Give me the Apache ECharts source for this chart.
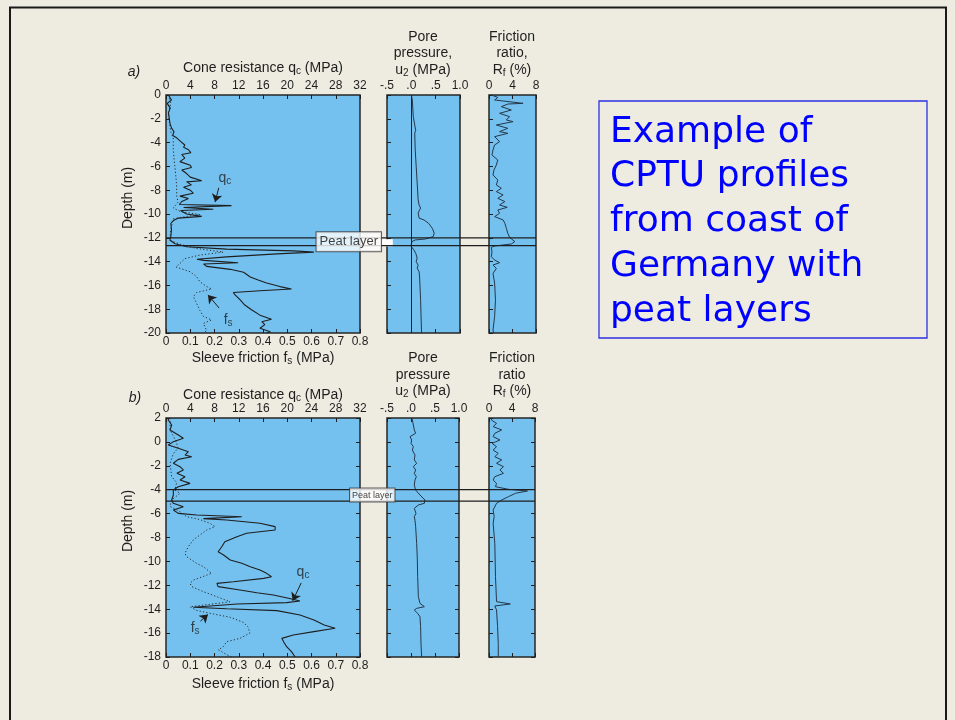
<!DOCTYPE html>
<html><head><meta charset="utf-8">
<script src="https://cdn.jsdelivr.net/npm/echarts@6/dist/echarts.min.js"></script>
<style>html,body{margin:0;padding:0;background:#EEECE1;}#c{width:955px;height:720px;}</style>
</head><body><div id="c"></div>
<script>
// ---------- DATA (value, depth) ----------
const qcA = [[0.4,0],[0.4,-0.14],[0.9,-0.42],[0.2,-0.7],[0.7,-1.1],[0.4,-1.5],[0.55,-2.0],[0.66,-2.4],[0.94,-2.8],[1.32,-3.1],[1.1,-3.4],[1.76,-3.6],[2.4,-3.9],[3.1,-4.2],[2.9,-4.4],[3.7,-4.6],[4.1,-4.85],[2.6,-5.0],[3.1,-5.3],[2.3,-5.6],[4.0,-5.9],[4.2,-6.1],[2.6,-6.3],[3.4,-6.6],[4.0,-6.9],[5.9,-7.2],[3.4,-7.3],[4.2,-7.55],[2.9,-7.75],[4.0,-8.0],[4.5,-8.25],[2.3,-8.5],[3.7,-8.7],[2.6,-8.95],[2.2,-9.2],[10.8,-9.3],[2.9,-9.45],[7.8,-9.6],[2.4,-9.7],[3.4,-10.0],[5.9,-10.2],[2.0,-10.35],[1.2,-10.55],[0.8,-10.8],[0.9,-11.3],[0.8,-11.9],[0.66,-12.2],[1.5,-12.5],[3.4,-12.75],[10.0,-12.95],[21.0,-13.1],[24.4,-13.2],[18.3,-13.35],[10.0,-13.6],[5.1,-13.8],[6.2,-13.9],[11.9,-14.1],[6.2,-14.2],[6.7,-14.4],[10.6,-14.65],[12.8,-14.9],[13.9,-15.3],[15.2,-15.55],[16.6,-15.8],[18.8,-16.1],[20.7,-16.3],[15.5,-16.45],[11.1,-16.6],[11.4,-16.8],[12.2,-17.2],[13.0,-17.65],[14.1,-18.05],[15.5,-18.5],[17.4,-18.85],[15.8,-19.05],[16.3,-19.3],[15.5,-19.6],[17.2,-19.9],[16.6,-20]];
const fsA = [[0.01,0],[0.01,-0.14],[0.02,-0.7],[0.01,-1.5],[0.015,-2.4],[0.02,-3.1],[0.03,-3.6],[0.03,-4.6],[0.033,-5.3],[0.037,-6.1],[0.041,-6.9],[0.044,-7.7],[0.044,-8.5],[0.05,-9.0],[0.03,-9.5],[0.06,-9.8],[0.14,-10.05],[0.1,-10.15],[0.03,-10.4],[0.02,-11.3],[0.015,-12.2],[0.06,-12.55],[0.126,-12.9],[0.236,-13.2],[0.14,-13.45],[0.078,-13.75],[0.058,-14.15],[0.041,-14.45],[0.099,-14.85],[0.126,-15.25],[0.14,-15.7],[0.168,-16.1],[0.188,-16.3],[0.126,-16.6],[0.113,-16.95],[0.126,-17.5],[0.14,-18.1],[0.154,-18.6],[0.188,-18.9],[0.154,-19.2],[0.168,-19.8],[0.154,-20]];
const uA = [[0.0,0],[0.02,-0.4],[0.04,-1.8],[0.09,-3.0],[0.11,-3.1],[0.07,-3.2],[0.08,-4.6],[0.10,-6.0],[0.12,-7.4],[0.14,-8.8],[0.16,-9.25],[0.19,-9.5],[0.14,-9.9],[0.16,-10.35],[0.26,-10.5],[0.36,-10.8],[0.43,-11.2],[0.47,-11.6],[0.45,-11.9],[0.29,-12.1],[0.08,-12.18],[0.02,-12.3],[0.0,-12.5],[0.0,-12.75],[0.05,-13.0],[0.09,-13.3],[0.12,-13.7],[0.1,-14.0],[0.14,-14.3],[0.12,-14.55],[0.16,-14.85],[0.17,-15.3],[0.19,-17.2],[0.21,-20]];
const rfA = [[0.4,0],[1.5,-0.2],[0.96,-0.42],[5.8,-0.7],[3.2,-0.76],[2.1,-0.98],[3.8,-1.26],[1.8,-1.54],[3.5,-1.82],[2.95,-2.1],[4.1,-2.24],[1.25,-2.52],[3.2,-2.8],[1.8,-3.08],[3.2,-3.22],[0.96,-3.5],[1.8,-3.92],[0.96,-4.2],[0.68,-4.62],[0.5,-5.04],[1.5,-5.46],[1.25,-5.88],[0.85,-6.3],[0.68,-6.72],[1.5,-7.14],[1.25,-7.56],[2.1,-7.84],[1.25,-8.12],[2.4,-8.4],[1.5,-8.68],[2.7,-8.96],[1.8,-9.24],[3.1,-9.44],[1.5,-9.66],[1.8,-9.94],[0.96,-10.22],[2.4,-10.5],[2.7,-10.78],[2.95,-11.2],[3.2,-11.62],[3.5,-11.96],[4.4,-12.32],[3.8,-12.52],[0.96,-12.69],[0.4,-12.8],[0.5,-13.17],[0.4,-13.59],[0.96,-13.87],[1.8,-14.09],[0.68,-14.29],[1.25,-14.57],[0.68,-15.0],[0.96,-15.8],[1.1,-17.2],[0.96,-18.6],[0.68,-19.75],[0.8,-20]];

const qcB = [[0.4,2],[0.38,1.83],[0.94,1.41],[0.66,1.0],[2.03,0.58],[2.86,0.3],[1.21,0.02],[0.38,-0.26],[2.03,-0.54],[3.69,-0.82],[3.14,-1.1],[4.24,-1.24],[2.03,-1.46],[1.21,-1.79],[2.31,-2.07],[2.86,-2.35],[1.8,-2.63],[3.14,-2.91],[2.31,-3.19],[3.96,-3.47],[2.03,-3.75],[1.21,-4.03],[1.21,-4.44],[0.94,-4.86],[1.21,-5.14],[2.86,-5.42],[1.21,-5.7],[2.03,-5.98],[5.06,-6.12],[12.5,-6.26],[6.16,-6.42],[10.0,-6.54],[15.5,-6.81],[18.0,-7.09],[18.0,-7.37],[13.3,-7.65],[11.7,-7.93],[9.7,-8.35],[9.2,-8.77],[8.6,-9.19],[9.5,-9.46],[10.6,-9.88],[12.5,-10.16],[13.9,-10.44],[15.5,-10.72],[16.6,-11.0],[17.4,-11.28],[16.1,-11.42],[11.1,-11.7],[8.4,-11.84],[8.6,-12.11],[12.2,-12.39],[15.0,-12.62],[17.7,-12.81],[20.2,-13.09],[22.1,-13.31],[19.9,-13.45],[11.7,-13.56],[7.3,-13.73],[4.5,-13.84],[10.0,-13.96],[18.3,-14.12],[22.1,-14.49],[24.4,-14.9],[26.1,-15.32],[27.9,-15.6],[24.4,-15.88],[21.0,-16.16],[19.1,-16.44],[19.4,-16.72],[19.9,-17.14],[20.7,-17.55],[21.3,-18.0]];
const fsB = [[0.017,2],[0.017,1.6],[0.017,1.0],[0.04,0.1],[0.05,-0.5],[0.03,-1.0],[0.017,-1.8],[0.023,-2.9],[0.044,-3.4],[0.037,-4.03],[0.058,-4.3],[0.023,-4.86],[0.017,-5.4],[0.058,-5.84],[0.085,-6.26],[0.14,-6.5],[0.181,-6.81],[0.202,-7.09],[0.168,-7.37],[0.14,-7.79],[0.113,-8.2],[0.092,-8.77],[0.078,-9.33],[0.085,-9.6],[0.126,-10.16],[0.154,-10.44],[0.188,-11.0],[0.113,-11.56],[0.099,-11.84],[0.106,-12.11],[0.154,-12.53],[0.209,-12.95],[0.264,-13.38],[0.099,-13.8],[0.126,-14.1],[0.195,-14.4],[0.264,-14.67],[0.319,-15.1],[0.339,-15.5],[0.346,-16.0],[0.305,-16.44],[0.25,-16.72],[0.236,-17.14],[0.216,-17.4],[0.25,-17.8],[0.271,-18]];
const uB = [[0.02,2],[0.028,1.83],[0.049,1.41],[0.069,1.0],[0.097,0.72],[-0.02,0.44],[0.014,0.16],[0.0,-0.12],[0.049,-0.4],[0.028,-0.68],[0.083,-1.1],[0.069,-1.51],[0.118,-1.79],[0.049,-2.07],[0.097,-2.35],[0.069,-2.63],[0.111,-2.91],[0.083,-3.19],[0.069,-3.61],[0.097,-4.03],[0.187,-4.44],[0.29,-4.86],[0.278,-5.14],[0.153,-5.28],[0.069,-5.56],[0.104,-5.98],[0.069,-6.26],[0.083,-6.54],[0.097,-7.09],[0.118,-8.49],[0.132,-9.88],[0.139,-11.28],[0.153,-12.95],[0.187,-13.51],[0.278,-13.79],[0.118,-13.93],[0.069,-14.07],[0.139,-14.35],[0.187,-14.63],[0.2,-15.46],[0.208,-16.86],[0.222,-18]];
const rfB = [[0.4,2],[0.42,1.83],[1.31,1.55],[0.72,1.28],[2.21,1.0],[1.01,0.72],[0.72,0.44],[1.91,0.16],[0.54,-0.12],[1.31,-0.4],[0.72,-0.68],[1.61,-0.96],[1.01,-1.24],[2.21,-1.51],[1.31,-1.79],[2.51,-2.07],[1.91,-2.35],[2.51,-2.63],[1.01,-2.91],[0.72,-3.19],[1.31,-3.47],[1.13,-3.75],[3.4,-3.97],[6.69,-4.11],[4.6,-4.3],[3.4,-4.58],[2.21,-4.86],[1.31,-5.14],[1.01,-5.28],[0.72,-5.7],[0.9,-6.26],[0.72,-6.81],[1.01,-8.49],[1.13,-11.28],[1.31,-13.37],[3.7,-13.56],[1.01,-13.73],[1.31,-14.07],[1.49,-15.46],[1.61,-16.86],[1.61,-18]];

const peatA = [-12.0, -12.65];   // peat layer boundaries, profile a
const peatB = [-4.0, -4.95];     // peat layer boundaries, profile b
const uTickLabels = ['-.5', '.0', '.5', '1.0'];
const depthRangeA = [-20, 0];
const depthRangeB = [-18, 2];

// ---------- STYLE ----------
const FONT = "'Liberation Sans', Arial, sans-serif";
const INK = '#1e1e1e';
const CURVE2 = '#25384a';
const PLOT_BG = '#74C1F0';

const gridsDef = [
  {left:166, top:95, width:194, height:238},
  {left:387, top:95, width:73, height:238},
  {left:489, top:95, width:47, height:238},
  {left:166, top:95, width:370, height:238, hidden:true},
  {left:166, top:418, width:194, height:239},
  {left:387, top:418, width:72, height:239},
  {left:489, top:418, width:46, height:239},
  {left:166, top:418, width:369, height:239, hidden:true}
];
const grid = gridsDef.map(g => g.hidden
  ? {left:g.left, top:g.top, width:g.width, height:g.height, show:false}
  : {left:g.left, top:g.top, width:g.width, height:g.height, show:true, backgroundColor:PLOT_BG, borderColor:'#262626', borderWidth:1.5});

function xAx(gi, pos, min, max, interval, showLabel, fmt) {
  const lab = {show:showLabel, margin:3, fontSize:12, color:INK, fontFamily:FONT, showMinLabel:true, showMaxLabel:true};
  if (fmt) lab.formatter = fmt;
  return {type:'value', gridIndex:gi, position:pos, min, max, interval,
    axisLine:{show:false, onZero:false}, splitLine:{show:false},
    axisTick:{show:true, inside:true, length:4, lineStyle:{color:INK, width:1}},
    axisLabel:lab};
}
function yAx(gi, pos, range, showLabel) {
  return {type:'value', gridIndex:gi, position:pos, min:range[0], max:range[1], interval:2,
    axisLine:{show:false, onZero:false}, splitLine:{show:false},
    axisTick:{show:true, inside:true, length:4, lineStyle:{color:INK, width:1}},
    axisLabel:{show:showLabel, margin:5, fontSize:12, color:INK, fontFamily:FONT, showMinLabel:true, showMaxLabel:true}};
}
const hid = (gi, min, max) => ({type:'value', gridIndex:gi, min, max, show:false, axisLine:{onZero:false}});
const uFmt = v => uTickLabels[Math.round((v + 0.5) / 0.5)];

const xAxis = [
  xAx(0,'top',0,32,4,true), xAx(0,'bottom',0,0.8,0.1,true),
  xAx(1,'top',-0.5,1.0,0.5,true,uFmt), xAx(1,'bottom',-0.5,1.0,0.5,false),
  xAx(2,'top',0,8,4,true), xAx(2,'bottom',0,8,4,false),
  hid(3,0,1),
  xAx(4,'top',0,32,4,true), xAx(4,'bottom',0,0.8,0.1,true),
  xAx(5,'top',-0.5,1.0,0.5,true,uFmt), xAx(5,'bottom',-0.5,1.0,0.5,false),
  xAx(6,'top',0,8,4,true), xAx(6,'bottom',0,8,4,false),
  hid(7,0,1)
];
const yAxis = [
  yAx(0,'left',depthRangeA,true), yAx(1,'left',depthRangeA,false), yAx(2,'left',depthRangeA,false), hid(3,depthRangeA[0],depthRangeA[1]),
  yAx(4,'left',depthRangeB,true), yAx(4,'right',depthRangeB,false),
  yAx(5,'left',depthRangeB,false), yAx(5,'right',depthRangeB,false),
  yAx(6,'left',depthRangeB,false), yAx(6,'right',depthRangeB,false),
  hid(7,depthRangeB[0],depthRangeB[1])
];

const solid = (c, w) => ({color:c, width:w, type:'solid'});
const dotted = {color:'#2a2a2a', width:1, type:[1.2, 2.2]};
function line(data, xi, yi, style, extra) {
  return Object.assign({type:'line', xAxisIndex:xi, yAxisIndex:yi, data, symbol:'none', showSymbol:false,
    lineStyle:style, silent:true, animation:false, z:3}, extra || {});
}
function arrow(p0, p1) {
  return {silent:true, animation:false, symbol:['none','arrow'], symbolSize:8,
    label:{show:false}, lineStyle:{color:INK, width:1, type:'solid'}, itemStyle:{color:INK},
    data:[[{coord:p0},{coord:p1}]]};
}
const subRich = {s:{fontSize:10, fontFamily:FONT, color:INK, lineHeight:6, verticalAlign:'bottom'}};
function note(xi, yi, pt, text) {
  return {type:'scatter', xAxisIndex:xi, yAxisIndex:yi, data:[pt], symbolSize:1, silent:true, animation:false,
    itemStyle:{color:'transparent'}, z:6,
    label:{show:true, position:'inside', formatter:text, color:INK, fontSize:14, fontFamily:FONT, lineHeight:16, rich:subRich}};
}
function peatLabel(xi, yi, pt, fontSize, pad, strip) {
  const s = {type:'scatter', xAxisIndex:xi, yAxisIndex:yi, data:[pt], symbolSize:1, silent:true, animation:false,
    itemStyle:{color:'transparent'}, z:10,
    label:{show:true, position:'inside', formatter:'Peat layer', color:'#111', fontSize, fontFamily:FONT,
      backgroundColor:'#ffffff', borderColor:'#3a3a3a', borderWidth:1, padding:pad}};
  if (strip) s.markArea = {silent:true, itemStyle:{color:'#ffffff'}, data:[[{coord:strip[0]},{coord:strip[1]}]]};
  return s;
}

const series = [
  // profile a
  line(qcA, 0, 0, solid(INK, 1.1), {markLine: arrow([8.7,-7.8],[8.1,-9.0])}),
  line(fsA, 1, 0, dotted, {markLine: arrow([0.219,-17.9],[0.173,-16.8])}),
  line(uA, 2, 1, solid(CURVE2, 1), {markLine:{silent:true, animation:false, symbol:'none', label:{show:false}, lineStyle:{color:INK, width:1, type:'solid'}, data:[{xAxis:0}]}}),
  line(rfA, 4, 2, solid(CURVE2, 1)),
  line([[0,peatA[0]],[1,peatA[0]]], 6, 3, solid(INK, 1.2), {z:5}),
  line([[0,peatA[1]],[1,peatA[1]]], 6, 3, solid(INK, 1.2), {z:5}),
  note(0, 0, [9.7,-6.97], 'q{s|c}'),
  note(1, 0, [0.256,-18.9], 'f{s|s}'),
  peatLabel(6, 3, [0.494,-12.33], 13, [3,3,3,3], [[0.575,-12.12],[0.613,-12.72]]),
  // profile b
  line(qcB, 7, 4, solid(INK, 1.1), {markLine: arrow([22.3,-11.8],[20.9,-13.3])}),
  line(fsB, 8, 4, dotted, {markLine: arrow([0.142,-15.0],[0.173,-14.45])}),
  line(uB, 9, 6, solid(CURVE2, 1)),
  line(rfB, 11, 8, solid(CURVE2, 1)),
  line([[0,peatB[0]],[1,peatB[0]]], 13, 10, solid(INK, 1.2), {z:5}),
  line([[0,peatB[1]],[1,peatB[1]]], 13, 10, solid(INK, 1.2), {z:5}),
  note(7, 4, [22.6,-10.9], 'q{s|c}'),
  note(8, 4, [0.12,-15.6], 'f{s|s}'),
  peatLabel(13, 10, [0.559,-4.45], 9, [2,2,2,2])
];

// ---------- TEXT ----------
const gSub = {s:{fontSize:10, fontFamily:FONT, fill:INK, lineHeight:6, verticalAlign:'bottom'}};
function t(text, x, y, opts) {
  return Object.assign({type:'text', x, y, silent:true,
    style:Object.assign({text, fill:INK, font:'14px ' + FONT, align:'center', verticalAlign:'middle', lineHeight:16, rich:gSub}, (opts && opts.style) || {})},
    (opts && opts.el) || {});
}
const graphic = [
  {type:'polyline', silent:true, shape:{points:[[10,722],[10,7.5],[946,7.5],[946,722]]}, style:{stroke:'#1a1a1a', lineWidth:2, fill:null}},
  t('a)', 134, 72, {style:{font:'italic 14px ' + FONT}}),
  t('Cone resistance q{s|c} (MPa)', 263, 68),
  t('Sleeve friction f{s|s} (MPa)', 263, 358),
  t('Depth (m)', 128, 198, {el:{rotation:Math.PI/2}}),
  t('Pore', 423, 37), t('pressure,', 423, 53), t('u{s|2} (MPa)', 423, 70),
  t('Friction', 512, 37), t('ratio,', 512, 53), t('R{s|f} (%)', 512, 70),
  t('b)', 135, 398, {style:{font:'italic 14px ' + FONT}}),
  t('Cone resistance q{s|c} (MPa)', 263, 395),
  t('Sleeve friction f{s|s} (MPa)', 263, 684),
  t('Depth (m)', 128, 521, {el:{rotation:Math.PI/2}}),
  t('Pore', 423, 358), t('pressure', 423, 375), t('u{s|2} (MPa)', 423, 391),
  t('Friction', 512, 358), t('ratio', 512, 375), t('R{s|f} (%)', 512, 391),
  {type:'rect', silent:true, shape:{x:599, y:101, width:328, height:237}, style:{fill:null, stroke:'#2f2fe6', lineWidth:1.3}},
  {type:'text', x:610, y:110, silent:true, style:{text:'Example of\nCPTU profiles\nfrom coast of\nGermany with\npeat layers',
    fill:'#0000FF', font:"36px 'DejaVu Sans', Verdana, sans-serif", lineHeight:44.7, align:'left', verticalAlign:'top'}}
];

const chart = echarts.init(document.getElementById('c'), null, {renderer:'canvas'});
chart.setOption({backgroundColor:'#EEECE1', animation:false, grid, xAxis, yAxis, series, graphic});
</script></body></html>
